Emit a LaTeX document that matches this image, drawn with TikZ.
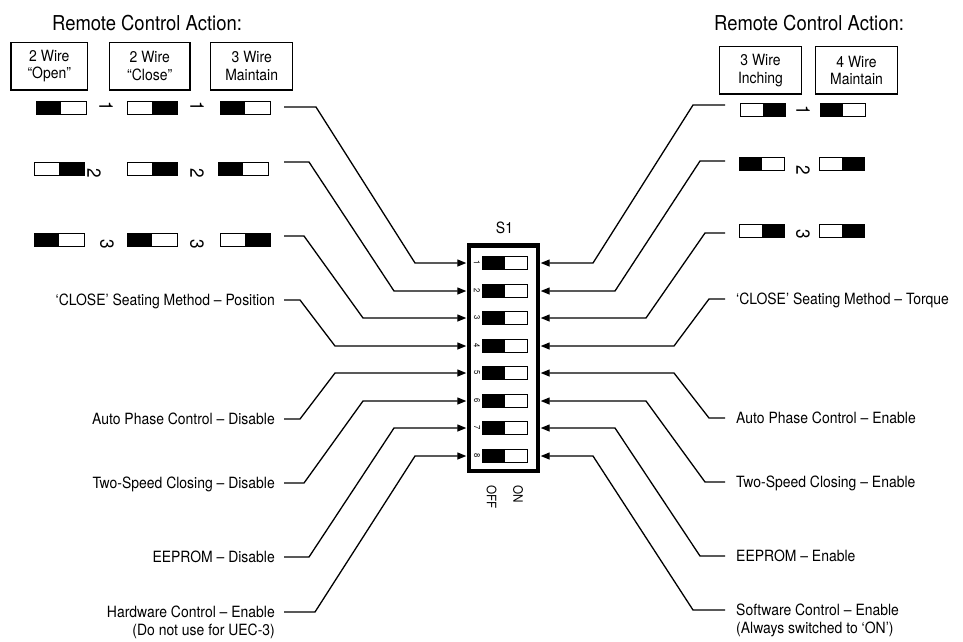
\documentclass[tikz,border=0pt]{standalone}
\usepackage{fontspec}
\setmainfont{TeX Gyre Heros}[FakeStretch=0.9]
\usetikzlibrary{arrows.meta}
\newcommand\swl[3]{\fill (#1-#3/2,#2-6.5) rectangle (#1,#2+6.5); \draw[swline] (#1-#3/2,#2-6.5) rectangle (#1+#3/2,#2+6.5);}
\newcommand\swr[3]{\fill (#1,#2-6.5) rectangle (#1+#3/2,#2+6.5); \draw[swline] (#1-#3/2,#2-6.5) rectangle (#1+#3/2,#2+6.5);}
\begin{document}
\begin{tikzpicture}[x=1pt,y=-1pt,
  conn/.style={line width=1.3pt},
  arr/.style={conn,-{Triangle[length=9pt,width=7pt]}},
  swline/.style={line width=0.9pt},
  lbl/.style={inner sep=0pt,font=\fontsize{15.5}{18}\selectfont},
  title/.style={inner sep=0pt,font=\fontsize{20.5}{24}\selectfont},
  wbox/.style={draw,line width=1.5pt,inner sep=0pt,align=center,
    font=\fontsize{15.5}{17.5}\selectfont},
  num/.style={inner sep=0pt,rotate=-90,font=\fontsize{19}{19}\selectfont},
  dnum/.style={inner sep=0pt,rotate=-90,font=\fontsize{8.5}{8.5}\selectfont},
  onoff/.style={inner sep=0pt,rotate=-90,anchor=west,font=\fontsize{13}{13}\selectfont}]
\useasboundingbox (0,0) rectangle (963,641);

% titles
\node[title] (tl) at (147,23) {Remote Control Action:};
\node[title] (tr) at (809,23) {Remote Control Action:};

% boxes
\node[wbox,minimum width=76.7pt,minimum height=47.7pt] (b1) at (49.3,66.2) {2 Wire\\“Open”};
\node[wbox,minimum width=80.7pt,minimum height=47.7pt] (b2) at (149.7,66.2) {2 Wire\\“Close”};
\node[wbox,minimum width=82pt,minimum height=47.7pt] (b3) at (251.7,66.2) {3 Wire\\Maintain};
\node[wbox,minimum width=82.4pt,minimum height=47.3pt] (b4) at (760.5,70.3) {3 Wire\\Inching};
\node[wbox,minimum width=81.6pt,minimum height=47.3pt] (b5) at (856.5,70.3) {4 Wire\\Maintain};

% top-left switches
\swl{61}{108}{50} \swr{152}{108}{50} \swl{245}{108}{50}
\swr{59}{169}{50} \swr{152}{169}{50} \swl{243}{169}{50}
\swl{59}{240}{50} \swl{152}{240}{50} \swr{245}{240}{50}
\node[num] (n11) at (106,106) {1};
\node[num] (n12) at (197,106) {1};
\node[num] (n21) at (94,173) {2};
\node[num] (n22) at (197,173) {2};
\node[num] (n31) at (107,244) {3};
\node[num] (n32) at (197,244) {3};

% top-right switches
\swr{763}{109.5}{45} \swl{843}{109.5}{45}
\swl{761.5}{164}{45} \swr{842}{164}{45}
\swr{761.5}{231}{45} \swr{842}{231}{45}
\node[num] (m1) at (803,110) {1};
\node[num] (m2) at (803,170) {2};
\node[num] (m3) at (803,234) {3};

% DIP switch S1
\node[lbl] (s1) at (504.5,228) {S1};
\node[draw,line width=4.5pt,minimum width=69pt,minimum height=225.5pt,inner sep=0pt] (dip) at (503.5,358.25) {};
\foreach \i/\y in {1/263,2/291,3/318,4/346,5/373,6/401,7/428,8/456}{
  \swl{505.3}{\y}{45}
  \node[dnum] (d\i) at (477,\y) {\i};
  \coordinate (L\i) at (466.3,\y);
  \coordinate (R\i) at (540.7,\y);
}
\node[onoff] (off) at (491.5,485) {OFF};
\node[onoff] (on) at (518,485) {ON};

% left labels
\node[lbl,anchor=base east] (lp4) at (275,305.5) {‘CLOSE’ Seating Method – Position};
\node[lbl,anchor=base east] (lp5) at (275,424.5) {Auto Phase Control – Disable};
\node[lbl,anchor=base east] (lp6) at (275,488.5) {Two-Speed Closing – Disable};
\node[lbl,anchor=base east] (lp7) at (275,562.5) {EEPROM – Disable};
\node[lbl,anchor=base east] (lp8) at (275,617.5) {Hardware Control – Enable};
\node[lbl,anchor=base east] (lp8b) at (275,635.5) {(Do not use for UEC-3)};

% right labels
\node[lbl,anchor=base west] (rp4) at (736,304.5) {‘CLOSE’ Seating Method – Torque};
\node[lbl,anchor=base west] (rp5) at (736,423.5) {Auto Phase Control – Enable};
\node[lbl,anchor=base west] (rp6) at (736,487.5) {Two-Speed Closing – Enable};
\node[lbl,anchor=base west] (rp7) at (736,561.5) {EEPROM – Enable};
\node[lbl,anchor=base west] (rp8) at (736,615.5) {Software Control – Enable};
\node[lbl,anchor=base west] (rp8b) at (736,633.5) {(Always switched to ‘ON’)};

% left connector starts
\coordinate (a1) at (284,107);
\coordinate (a2) at (284,162);
\coordinate (a3) at (284,236);
\coordinate (a4) at (284,300);
\coordinate (a5) at (284,419);
\coordinate (a6) at (284,483);
\coordinate (a7) at (284,557);
\coordinate (a8) at (284,612);
% right connector starts
\coordinate (c1) at (725,105);
\coordinate (c2) at (725,161);
\coordinate (c3) at (725,233);
\coordinate (c4) at (725,299);
\coordinate (c5) at (725,418);
\coordinate (c6) at (725,482);
\coordinate (c7) at (725,556);
\coordinate (c8) at (725,610);

% left connectors
\draw[arr] (a1) -- (316,107) -- (415,263) -- (L1);
\draw[arr] (a2) -- (309,162) -- (394,291) -- (L2);
\draw[arr] (a3) -- (304,236) -- (363,318) -- (L3);
\draw[arr] (a4) -- (300,300) -- (335,346) -- (L4);
\draw[arr] (a5) -- (300,419) -- (335,373) -- (L5);
\draw[arr] (a6) -- (304,483) -- (363,401) -- (L6);
\draw[arr] (a7) -- (309,557) -- (394,428) -- (L7);
\draw[arr] (a8) -- (315,612) -- (415,456) -- (L8);

% right connectors
\draw[arr] (c1) -- (693,105) -- (593,263) -- (R1);
\draw[arr] (c2) -- (700,161) -- (615,291) -- (R2);
\draw[arr] (c3) -- (705,233) -- (646,318) -- (R3);
\draw[arr] (c4) -- (709,299) -- (674,346) -- (R4);
\draw[arr] (c5) -- (709,418) -- (674,373) -- (R5);
\draw[arr] (c6) -- (705,482) -- (646,401) -- (R6);
\draw[arr] (c7) -- (700,556) -- (615,428) -- (R7);
\draw[arr] (c8) -- (693,610) -- (593,456) -- (R8);
\end{tikzpicture}
\end{document}
